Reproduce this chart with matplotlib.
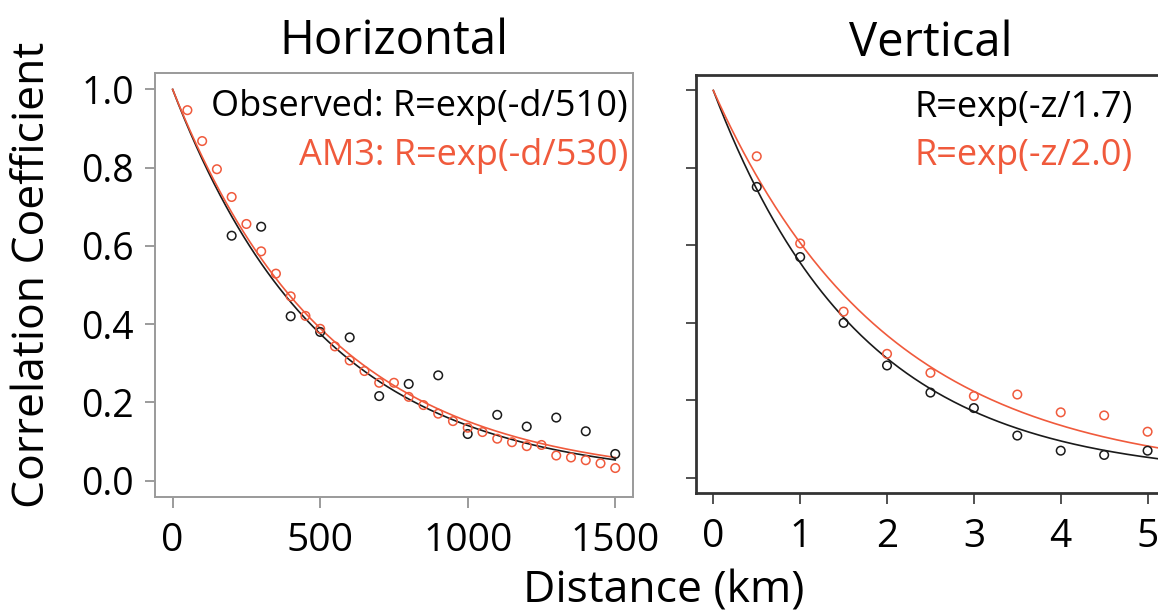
import numpy as np
import matplotlib

matplotlib.use('Agg')
import matplotlib.pyplot as plt

plt.rcParams['font.family'] = ['Open Sans', 'DejaVu Sans']

# horizontal correlation (distance in km)
obs_d = [200, 300, 400, 500, 600, 700, 800, 900, 1000, 1100, 1200, 1300, 1400, 1500]
obs_r = [0.626, 0.649, 0.420, 0.380, 0.366, 0.216, 0.247, 0.269, 0.119, 0.168,
         0.138, 0.161, 0.126, 0.068]
am3_d = list(range(50, 1501, 50))
am3_r = [0.947, 0.868, 0.796, 0.725, 0.656, 0.586, 0.529, 0.471, 0.421, 0.388,
         0.343, 0.307, 0.280, 0.250, 0.250, 0.214, 0.193, 0.171, 0.152, 0.135,
         0.124, 0.107, 0.098, 0.088, 0.091, 0.064, 0.059, 0.052, 0.044, 0.032]
obs_scale_h = 510
am3_scale_h = 530

# vertical correlation
obs_z = [0.5, 1.0, 1.5, 2.0, 2.5, 3.0, 3.5, 4.0, 4.5, 5.0]
obs_rz = [0.751, 0.570, 0.400, 0.290, 0.220, 0.180, 0.109, 0.070, 0.059, 0.070]
am3_z = [0.5, 1.0, 1.5, 2.0, 2.5, 3.0, 3.5, 4.0, 4.5, 5.0]
am3_rz = [0.830, 0.605, 0.429, 0.320, 0.271, 0.211, 0.215, 0.169, 0.161, 0.119]
obs_scale_v = 1.7
am3_scale_v = 2.0

BLACK = '#1a1a1a'
RED = '#f05a3c'

fig = plt.figure(figsize=(11.58, 6.15), dpi=100)
ax1 = fig.add_axes([0.1338, 0.1919, 0.4128, 0.6894])
ax2 = fig.add_axes([0.6010, 0.1979, 0.4050, 0.6802])

# left panel
d = np.linspace(0, 1500, 300)
ax1.plot(d, np.exp(-d / obs_scale_h), color=BLACK, lw=1.2)
ax1.plot(d, np.exp(-d / am3_scale_h), color=RED, lw=1.2)
ax1.scatter(obs_d, obs_r, s=38, facecolors='none', edgecolors=BLACK, linewidths=1.1, zorder=3)
ax1.scatter(am3_d, am3_r, s=38, facecolors='none', edgecolors=RED, linewidths=1.1, zorder=3)
ax1.set_xlim(-60, 1560)
ax1.set_ylim(-0.042, 1.042)
ax1.set_xticks([0, 500, 1000, 1500])
ax1.set_yticks([0.0, 0.2, 0.4, 0.6, 0.8, 1.0])
ax1.set_yticklabels(['0.0', '0.2', '0.4', '0.6', '0.8', '1.0'])
for s in ax1.spines.values():
    s.set_color('#9a9a9a')
    s.set_linewidth(1.4)
ax1.tick_params(colors='#8a8a8a', labelcolor='black', length=7, width=1.2,
                labelsize=27, pad=8)
ax1.tick_params(axis='x', labelsize=28, length=8, pad=10)
ax1.set_title('Horizontal', fontsize=34, pad=14)
ax1.text(0.99, 0.899, 'Observed: R=exp(-d/510)', transform=ax1.transAxes,
         ha='right', va='baseline', fontsize=26, color='black')
ax1.text(0.99, 0.783, 'AM3: R=exp(-d/530)', transform=ax1.transAxes,
         ha='right', va='baseline', fontsize=26, color=RED)

# right panel
z = np.linspace(0, 5.2, 300)
ax2.plot(z, np.exp(-z / obs_scale_v), color=BLACK, lw=1.2)
ax2.plot(z, np.exp(-z / am3_scale_v), color=RED, lw=1.2)
ax2.scatter(obs_z, obs_rz, s=38, facecolors='none', edgecolors=BLACK, linewidths=1.1, zorder=3)
ax2.scatter(am3_z, am3_rz, s=38, facecolors='none', edgecolors=RED, linewidths=1.1, zorder=3)
ax2.set_xlim(-0.2, 5.2)
ax2.set_ylim(-0.04, 1.04)
ax2.set_xticks([0, 1, 2, 3, 4, 5])
ax2.set_yticks([0.0, 0.2, 0.4, 0.6, 0.8, 1.0])
ax2.set_yticklabels([])
for s in ax2.spines.values():
    s.set_color('#333333')
    s.set_linewidth(2)
ax2.tick_params(colors='#333333', labelcolor='black', length=7, width=1.2, labelsize=28)
ax2.tick_params(axis='x', length=8, pad=10)
ax2.set_title('Vertical', fontsize=34, pad=14)
ax2.text(0.932, 0.90, 'R=exp(-z/1.7)', transform=ax2.transAxes,
         ha='right', va='baseline', fontsize=26, color='black')
ax2.text(0.932, 0.785, 'R=exp(-z/2.0)', transform=ax2.transAxes,
         ha='right', va='baseline', fontsize=26, color=RED)

fig.text(0.028, 0.553, 'Correlation Coefficient', rotation=90, ha='center',
         va='center', fontsize=32)
fig.text(0.573, 0.020, 'Distance (km)', ha='center', va='baseline', fontsize=32)

fig.savefig('out.png', dpi=100)
